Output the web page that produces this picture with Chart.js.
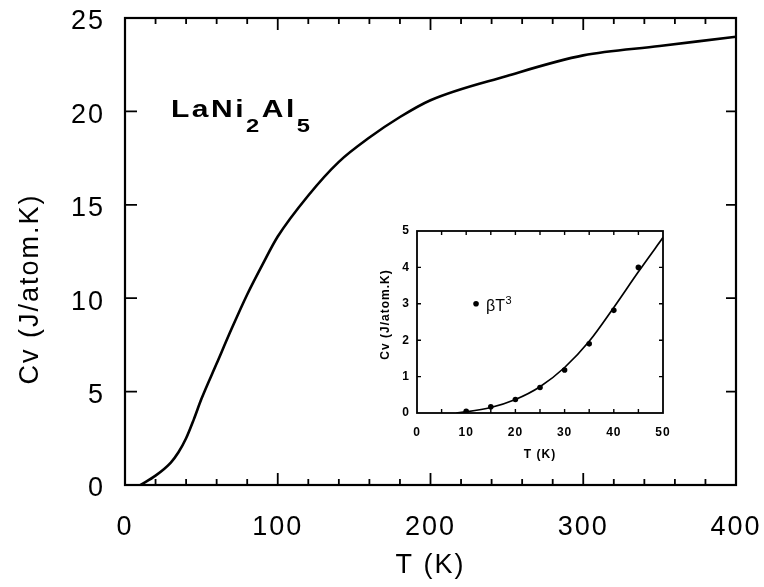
<!DOCTYPE html>
<html>
<head>
<meta charset="utf-8">
<script src="https://cdn.jsdelivr.net/npm/chart.js@4.4.0/dist/chart.umd.min.js"></script>
<style>
  html, body { margin:0; padding:0; background:#fff; }
  #wrap { position:relative; width:764px; height:587px; overflow:hidden; }
  #main { position:absolute; left:0; top:0; }
  #inset { position:absolute; left:375px; top:222px; }
  #compound { position:absolute; left:171px; top:97px; font-family:"Liberation Sans", Arial, sans-serif;
    font-weight:bold; font-size:24px; line-height:24px; color:#000; letter-spacing:2px; white-space:nowrap;
    transform:scaleX(1.25); transform-origin:0 0; }
  #compound span { position:relative; top:15px; font-size:19px; }
</style>
</head>
<body>
<div id="wrap">
  <canvas id="main" width="764" height="587"></canvas>
  <canvas id="inset" width="300" height="250"></canvas>
  <div id="compound">LaNi<span>2</span>Al<span>5</span></div>
</div>
<script>
// ---- Main chart data: Cv vs T ----
const mainT  = [10, 20, 30, 35, 40, 45, 50, 60, 70, 80, 90, 100, 120, 140, 160, 180, 200, 250, 300, 350, 400];
const mainCv = [0, 0.5, 1.2, 1.75, 2.5, 3.5, 4.6, 6.5, 8.4, 10.2, 11.8, 13.3, 15.5, 17.3, 18.6, 19.7, 20.6, 21.9, 23.0, 23.5, 24.0];

// ---- Inset data ----
const insetLineT  = [8, 10, 15, 20, 25, 30, 35, 40, 45, 50];
const insetLineCv = [0, 0.03, 0.15, 0.37, 0.72, 1.25, 1.97, 2.9, 3.88, 4.82];
const insetDotT   = [10, 15, 20, 25, 30, 35, 40, 45];
const insetDotCv  = [0.05, 0.17, 0.37, 0.7, 1.18, 1.9, 2.82, 4.0];

// ---- Tick values / labels ----
const mainXMinor = [20, 40, 60, 80, 120, 140, 160, 180, 220, 240, 260, 280, 320, 340, 360, 380];
const mainXMajor = [100, 200, 300];
const mainYTicks = [5, 10, 15, 20];
const insetXTicks = [5, 10, 15, 20, 25, 30, 35, 40, 45];
const insetYTicks = [1, 2, 3, 4];
const legendBase = 'βT';
const legendSup = '3';
const legendPos = {x: 12, y: 3};
const yTitleText = 'Cv (J/atom.K)';

const FONT = '"Liberation Sans", Arial, Helvetica, sans-serif';

function pts(xs, ys){ return xs.map((v,i)=>({x:v, y:ys[i]})); }
function noPad(s){ s.paddingLeft = 0; s.paddingRight = 0; s.paddingTop = 0; s.paddingBottom = 0; }

const spacing = {
  id: 'spacing',
  beforeDraw(chart, args, o) { if (o && o.px !== undefined) chart.ctx.letterSpacing = o.px + 'px'; }
};

const frameTicks = {
  id: 'frameTicks',
  afterDatasetsDraw(chart, args, o) {
    const {ctx, chartArea:a, scales:{x, y}} = chart;
    ctx.save();
    ctx.strokeStyle = '#000';
    ctx.lineCap = 'butt';
    ctx.lineWidth = o.frameWidth;
    ctx.strokeRect(a.left, a.top, a.right - a.left, a.bottom - a.top);
    ctx.lineWidth = o.tickWidth;
    ctx.beginPath();
    const xt = (v, L) => {
      const px = x.getPixelForValue(v);
      ctx.moveTo(px, a.bottom); ctx.lineTo(px, a.bottom - L);
      ctx.moveTo(px, a.top);    ctx.lineTo(px, a.top + L);
    };
    (o.xMinor || []).forEach(v => xt(v, o.minorLen));
    (o.xMajor || []).forEach(v => xt(v, o.majorLen));
    (o.yTicks || []).forEach(v => {
      const py = y.getPixelForValue(v);
      ctx.moveTo(a.left, py);  ctx.lineTo(a.left + o.yLen, py);
      ctx.moveTo(a.right, py); ctx.lineTo(a.right - o.yLenR, py);
    });
    ctx.stroke();
    ctx.fillStyle = '#000';
    if (o.legend) {
      const lx = x.getPixelForValue(o.legend.x), ly = y.getPixelForValue(o.legend.y);
      ctx.letterSpacing = '0px';
      ctx.beginPath(); ctx.arc(lx, ly, 2.8, 0, Math.PI*2); ctx.fill();
      ctx.font = '16px ' + FONT;
      ctx.textBaseline = 'alphabetic'; ctx.textAlign = 'left';
      const tx = lx + 10, base = ly + 7;
      ctx.fillText(o.legend.base, tx, base);
      const w = ctx.measureText(o.legend.base).width;
      ctx.font = '11px ' + FONT;
      ctx.fillText(o.legend.sup, tx + w + 0.5, base - 7);
    }
    if (o.yTitle) {
      ctx.translate(o.yTitle.x, o.yTitle.y);
      ctx.rotate(-Math.PI / 2);
      ctx.letterSpacing = o.yTitle.spacing + 'px';
      ctx.font = o.yTitle.font;
      ctx.textAlign = 'center'; ctx.textBaseline = 'middle';
      ctx.fillText(o.yTitle.text, o.yTitle.spacing / 2, 0);
    }
    ctx.restore();
  }
};

// ---- Main chart ----
new Chart(document.getElementById('main'), {
  type: 'scatter',
  data: { datasets: [{
    data: pts(mainT, mainCv),
    showLine: true, borderColor: '#000', borderWidth: 2.6,
    pointRadius: 0, cubicInterpolationMode: 'monotone', fill: false
  }]},
  options: {
    responsive: false, animation: false, devicePixelRatio: 1,
    layout: { padding: { top: 18, right: 28, left: 0, bottom: 0 } },
    plugins: {
      legend: { display: false }, tooltip: { enabled: false },
      spacing: { px: 2 },
      frameTicks: { frameWidth: 2.2, tickWidth: 1.8, xMinor: mainXMinor, xMajor: mainXMajor,
        minorLen: 6, majorLen: 12, yTicks: mainYTicks, yLen: 12, yLenR: 10,
        yTitle: { text: yTitleText, x: 31, y: 290, spacing: 2, font: '27px ' + FONT } }
    },
    scales: {
      x: {
        type: 'linear', min: 0, max: 400,
        grid: { display: false, drawTicks: false }, border: { display: false },
        ticks: { stepSize: 100, color: '#000', font: { family: FONT, size: 27 }, padding: 26, maxRotation: 0 },
        title: { display: true, text: 'T (K)', color: '#000', font: { family: FONT, size: 27 }, padding: { bottom: 5, top: 0 } },
        afterFit(s) { s.height = 102; noPad(s); }
      },
      y: {
        type: 'linear', min: 0, max: 25,
        grid: { display: false, drawTicks: false }, border: { display: false },
        ticks: { stepSize: 5, color: '#000', font: { family: FONT, size: 27 }, padding: 20, labelOffset: 4 },
        title: { display: false },
        afterFit(s) { s.width = 125; noPad(s); }
      }
    }
  },
  plugins: [spacing, frameTicks]
});

// ---- Inset chart ----
new Chart(document.getElementById('inset'), {
  type: 'scatter',
  data: { datasets: [
    { data: pts(insetLineT, insetLineCv), showLine: true, borderColor: '#000', borderWidth: 1.7,
      pointRadius: 0, cubicInterpolationMode: 'monotone', fill: false },
    { data: pts(insetDotT, insetDotCv), showLine: false, pointRadius: 2.8,
      backgroundColor: '#000', borderColor: '#000', borderWidth: 0 }
  ]},
  options: {
    responsive: false, animation: false, devicePixelRatio: 1,
    layout: { padding: { top: 9, right: 12, left: 0, bottom: 0 } },
    plugins: {
      legend: { display: false }, tooltip: { enabled: false },
      spacing: { px: 1 },
      frameTicks: { frameWidth: 1.8, tickWidth: 1.4, xMinor: insetXTicks, xMajor: [],
        minorLen: 4, majorLen: 4, yTicks: insetYTicks, yLen: 4, yLenR: 4,
        legend: { x: legendPos.x, y: legendPos.y, base: legendBase, sup: legendSup },
        yTitle: { text: yTitleText, x: 11, y: 93, spacing: 1, font: 'bold 12px ' + FONT } }
    },
    scales: {
      x: {
        type: 'linear', min: 0, max: 50,
        grid: { display: false, drawTicks: false }, border: { display: false },
        ticks: { stepSize: 10, color: '#000', font: { family: FONT, size: 12, weight: 'bold' }, padding: 12, maxRotation: 0 },
        title: { display: true, text: 'T (K)', color: '#000', font: { family: FONT, size: 12, weight: 'bold' }, padding: { bottom: 10, top: 0 } },
        afterFit(s) { s.height = 59; noPad(s); }
      },
      y: {
        type: 'linear', min: 0, max: 5,
        grid: { display: false, drawTicks: false }, border: { display: false },
        ticks: { stepSize: 1, color: '#000', font: { family: FONT, size: 12, weight: 'bold' }, padding: 7 },
        title: { display: false },
        afterFit(s) { s.width = 42; noPad(s); }
      }
    }
  },
  plugins: [spacing, frameTicks]
});
</script>
</body>
</html>
